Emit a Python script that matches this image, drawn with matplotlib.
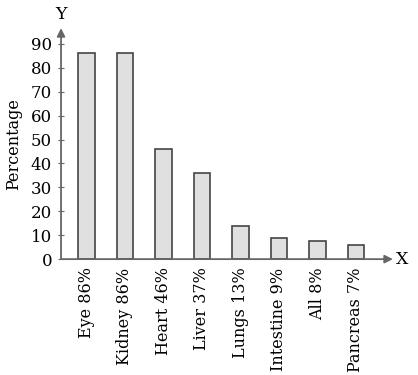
import matplotlib.pyplot as plt
import numpy as np

# Dados
organs = ['Eye 86%', 'Kidney 86%', 'Heart 46%', 'Liver 37%',
          'Lungs 13%', 'Intestine 9%', 'All 8%', 'Pancreas 7%']
heights = [86, 86, 46, 36, 14, 9, 7.5, 6]
yticks = [0, 10, 20, 30, 40, 50, 60, 70, 80, 90]

plt.rcParams['font.family'] = ['DejaVu Serif']

fig = plt.figure(figsize=(4.18, 3.75), dpi=100)
ax = fig.add_axes([0.146, 0.309, 0.794, 0.616])

x = np.arange(len(organs))
ax.bar(x, heights, width=0.43, color='#e0e0e0', edgecolor='#444444', linewidth=1.2)

ax.set_xlim(-0.66, 7.96)
ax.set_ylim(0, 96.6)

for s in ax.spines.values():
    s.set_visible(False)

# eixos com setas
axis_col = '#666666'
ax.annotate('', xy=(7.96, 0), xytext=(-0.66, 0), xycoords='data',
            arrowprops=dict(arrowstyle='-|>', color=axis_col, lw=1.3,
                            mutation_scale=12, shrinkA=0, shrinkB=0),
            annotation_clip=False)
ax.annotate('', xy=(-0.66, 96.6), xytext=(-0.66, 0), xycoords='data',
            arrowprops=dict(arrowstyle='-|>', color=axis_col, lw=1.3,
                            mutation_scale=12, shrinkA=0, shrinkB=0),
            annotation_clip=False)
ax.text(8.03, 0, 'X', ha='left', va='center', fontsize=12.5)
ax.text(-0.66, 98.8, 'Y', ha='center', va='bottom', fontsize=12.5)

ax.set_yticks(yticks)
ax.tick_params(axis='y', direction='inout', length=5, color=axis_col,
               labelsize=12, pad=4)
ax.set_xticks(x)
ax.set_xticklabels(organs, rotation=90, fontsize=11.5)
ax.tick_params(axis='x', length=0, pad=6)
ax.set_ylabel('Percentage', fontsize=11.5, labelpad=6)

fig.savefig('out.png', dpi=100)
